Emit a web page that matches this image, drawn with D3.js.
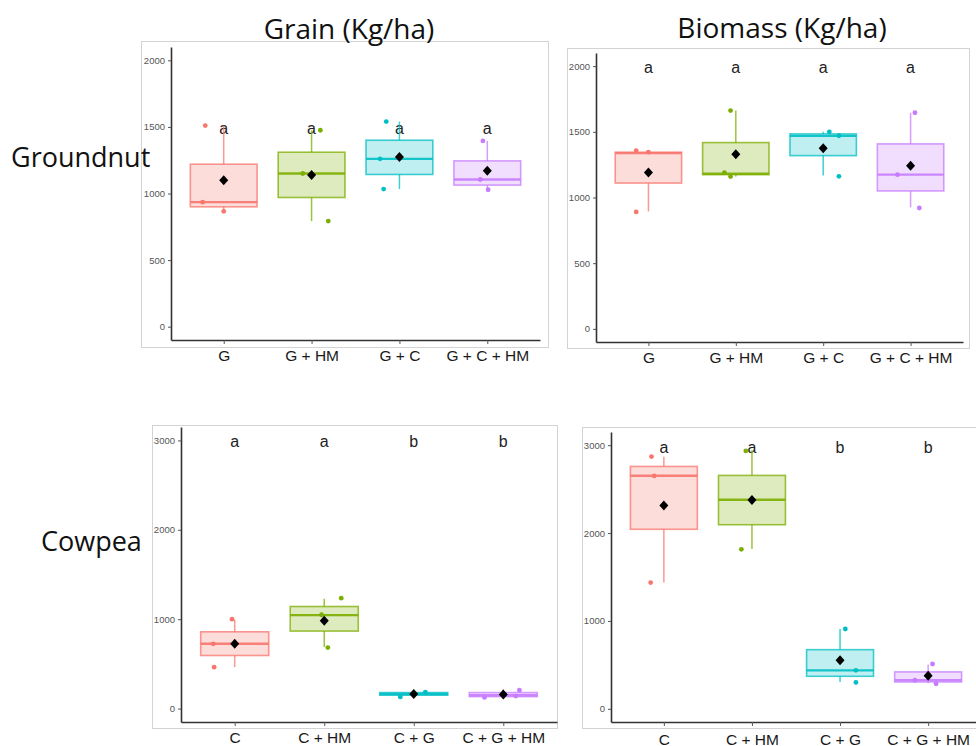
<!DOCTYPE html>
<html>
<head>
<meta charset="utf-8">
<script src="https://cdn.jsdelivr.net/npm/d3@7"></script>
<style>
  body { margin: 0; background: #fff; }
  svg { display: block; }
</style>
</head>
<body>
<svg id="chart" width="976" height="746"></svg>
<script>
// groups
const groundnutCats = ["G", "G + HM", "G + C", "G + C + HM"];
const cowpeaCats = ["C", "C + HM", "C + G", "C + G + HM"];
const groupColors = ["#F8766D", "#7CAE00", "#00BFC4", "#C77CFF"];

// box stats per group: [lower whisker, q1, median, q3, upper whisker]
const grainGroundnut = [
  [866, 900, 935, 1220, 1510],
  [793, 970, 1150, 1310, 1475],
  [1033, 1143, 1260, 1400, 1540],
  [1030, 1063, 1105, 1245, 1395]
];
const grainGroundnutMeans = [1100, 1138, 1275, 1170];
// observations: [value, jitter in category units]
const grainGroundnutPoints = [
  [[1510, -0.21], [935, -0.24], [866, 0.0]],
  [[1475, 0.10], [1150, -0.10], [793, 0.19]],
  [[1540, -0.15], [1260, -0.22], [1033, -0.18]],
  [[1395, -0.05], [1105, -0.08], [1028, 0.01]]
];
const grainGroundnutLetters = ["a", "a", "a", "a"];

const biomassGroundnut = [
  [894, 1110, 1338, 1345, 1355],
  [1159, 1174, 1181, 1418, 1662],
  [1168, 1319, 1469, 1484, 1500],
  [925, 1050, 1174, 1408, 1644]
];
const biomassGroundnutMeans = [1191, 1329, 1374, 1242];
const biomassGroundnutPoints = [
  [[1357, -0.14], [1345, 0.0], [890, -0.14]],
  [[1662, -0.06], [1159, -0.06], [1190, -0.13]],
  [[1500, 0.07], [1470, 0.18], [1161, 0.18]],
  [[1645, 0.05], [1174, -0.15], [920, 0.10]]
];
const biomassGroundnutLetters = ["a", "a", "a", "a"];

const grainCowpea = [
  [464, 594, 725, 859, 993],
  [688, 867, 1046, 1142, 1228],
  [130, 150, 164, 179, 185],
  [125, 134, 150, 179, 217]
];
const grainCowpeaMeans = [725, 982, 164, 157];
const grainCowpeaPoints = [
  [[1000, -0.03], [725, -0.24], [463, -0.23]],
  [[1235, 0.19], [1050, -0.03], [683, 0.04]],
  [[130, -0.15], [185, 0.13]],
  [[205, 0.18], [125, -0.21], [140, 0.14]]
];
const grainCowpeaLetters = ["a", "a", "b", "b"];

const biomassCowpea = [
  [1437, 2043, 2652, 2758, 2867],
  [1820, 2095, 2379, 2656, 2943],
  [306, 370, 438, 673, 908],
  [290, 306, 325, 420, 503]
];
const biomassCowpeaMeans = [2315, 2376, 552, 375];
const biomassCowpeaPoints = [
  [[2870, -0.14], [2650, -0.11], [1437, -0.15]],
  [[2935, -0.07], [1815, -0.12]],
  [[908, 0.06], [438, 0.18], [300, 0.18]],
  [[510, 0.05], [325, -0.15], [285, 0.09]]
];
const biomassCowpeaLetters = ["a", "a", "b", "b"];

const groundnutTicks = [0, 500, 1000, 1500, 2000];
const cowpeaTicks = [0, 1000, 2000, 3000];

const colTitles = ["Grain (Kg/ha)", "Biomass (Kg/ha)"];
const rowTitles = ["Groundnut", "Cowpea"];

const svg = d3.select("#chart");

const panels = [
  { cats: groundnutCats, stats: grainGroundnut, means: grainGroundnutMeans, pts: grainGroundnutPoints,
    letters: grainGroundnutLetters, letterY: 1490, ticks: groundnutTicks, domain: [-100, 2100],
    frame: [141, 41, 548, 347], plot: [171, 47, 540, 340], xpad: 6 },
  { cats: groundnutCats, stats: biomassGroundnut, means: biomassGroundnutMeans, pts: biomassGroundnutPoints,
    letters: biomassGroundnutLetters, letterY: 1990, ticks: groundnutTicks, domain: [-100, 2100],
    frame: [567, 48, 969, 348], plot: [596, 53, 963, 342], xpad: 6 },
  { cats: cowpeaCats, stats: grainCowpea, means: grainCowpeaMeans, pts: grainCowpeaPoints,
    letters: grainCowpeaLetters, letterY: 2990, ticks: cowpeaTicks, domain: [-150, 3150],
    frame: [152, 425, 557, 728], plot: [181, 427, 557, 722], xpad: 6 },
  { cats: cowpeaCats, stats: biomassCowpea, means: biomassCowpeaMeans, pts: biomassCowpeaPoints,
    letters: biomassCowpeaLetters, letterY: 2980, ticks: cowpeaTicks, domain: [-150, 3150],
    frame: [582, 427, 995, 728], plot: [611, 432, 981, 722], xpad: 8 }
];

panels.forEach(p => {
  const [fx0, fy0, fx1, fy1] = p.frame;
  const [px0, py0, px1, py1] = p.plot;

  svg.append("rect")
    .attr("x", fx0 + 0.5).attr("y", fy0 + 0.5)
    .attr("width", fx1 - fx0).attr("height", fy1 - fy0)
    .attr("fill", "#fff").attr("stroke", "#d3d3d3");

  const x = d3.scalePoint().domain(p.cats).range([px0, px1]).padding(0.6);
  const y = d3.scaleLinear().domain(p.domain).range([py1, py0]);
  const boxW = x.step() * 0.76;

  const g = svg.append("g");

  // letters
  g.selectAll(".letter").data(p.letters).join("text")
    .attr("x", (d, i) => x(p.cats[i]))
    .attr("y", y(p.letterY))
    .attr("dy", "0.35em")
    .attr("text-anchor", "middle")
    .attr("font-family", "Liberation Sans, Arial, sans-serif")
    .attr("font-size", 16)
    .attr("fill", "#222")
    .text(d => d);

  const boxes = g.selectAll(".box").data(p.stats).join("g");

  boxes.append("line")
    .attr("x1", (d, i) => x(p.cats[i])).attr("x2", (d, i) => x(p.cats[i]))
    .attr("y1", d => y(d[3])).attr("y2", d => y(d[4]))
    .attr("stroke", (d, i) => groupColors[i]).attr("stroke-opacity", 0.75).attr("stroke-width", 1.5);
  boxes.append("line")
    .attr("x1", (d, i) => x(p.cats[i])).attr("x2", (d, i) => x(p.cats[i]))
    .attr("y1", d => y(d[0])).attr("y2", d => y(d[1]))
    .attr("stroke", (d, i) => groupColors[i]).attr("stroke-opacity", 0.75).attr("stroke-width", 1.5);

  boxes.append("rect")
    .attr("x", (d, i) => x(p.cats[i]) - boxW / 2)
    .attr("width", boxW)
    .attr("y", d => y(d[3]))
    .attr("height", d => Math.max(y(d[1]) - y(d[3]), 1))
    .attr("fill", (d, i) => groupColors[i]).attr("fill-opacity", 0.25)
    .attr("stroke", (d, i) => groupColors[i]).attr("stroke-opacity", 0.75).attr("stroke-width", 1.6);

  boxes.append("line")
    .attr("x1", (d, i) => x(p.cats[i]) - boxW / 2).attr("x2", (d, i) => x(p.cats[i]) + boxW / 2)
    .attr("y1", d => y(d[2])).attr("y2", d => y(d[2]))
    .attr("stroke", (d, i) => groupColors[i]).attr("stroke-opacity", 0.9).attr("stroke-width", 2.4);

  // jittered observations
  p.pts.forEach((grp, i) => {
    g.selectAll(null).data(grp).join("circle")
      .attr("cx", d => x(p.cats[i]) + d[1] * x.step())
      .attr("cy", d => y(d[0]))
      .attr("r", 2.4)
      .attr("fill", groupColors[i]);
  });

  // means
  g.selectAll(".mean").data(p.means).join("path")
    .attr("transform", (d, i) => `translate(${x(p.cats[i])},${y(d)})`)
    .attr("d", "M0,-5L4.5,0L0,5L-4.5,0Z")
    .attr("fill", "#000");

  // axes
  const ya = svg.append("g")
    .attr("transform", `translate(${px0},0)`)
    .call(d3.axisLeft(y).tickValues(p.ticks).tickFormat(d3.format("d"))
      .tickSize(3).tickSizeOuter(0).tickPadding(3));
  ya.selectAll("text").attr("font-family", "Liberation Sans, Arial, sans-serif")
    .attr("font-size", 9.5).attr("fill", "#555");

  const xa = svg.append("g")
    .attr("transform", `translate(0,${py1})`)
    .call(d3.axisBottom(x).tickSize(4).tickSizeOuter(0).tickPadding(p.xpad));
  xa.selectAll("text").attr("font-family", "Liberation Sans, Arial, sans-serif")
    .attr("font-size", 15.5).attr("fill", "#1a1a1a");

  [ya, xa].forEach(a => {
    a.select(".domain").attr("stroke", "#333").attr("stroke-width", 1.6);
    a.selectAll(".tick line").attr("stroke", "#555");
  });
});

// column and row titles
const titleFont = "'Open Sans', 'Noto Sans', sans-serif";
svg.selectAll(".coltitle").data(colTitles).join("text")
  .attr("x", (d, i) => [349, 782][i])
  .attr("y", (d, i) => [39, 38][i])
  .attr("text-anchor", "middle")
  .attr("font-family", titleFont)
  .attr("font-size", 28)
  .attr("fill", "#111")
  .text(d => d);

svg.selectAll(".rowtitle").data(rowTitles).join("text")
  .attr("x", (d, i) => [11, 41][i])
  .attr("y", (d, i) => [167, 551][i])
  .attr("font-family", titleFont)
  .attr("font-size", 27)
  .attr("fill", "#111")
  .text(d => d);
</script>
</body>
</html>
